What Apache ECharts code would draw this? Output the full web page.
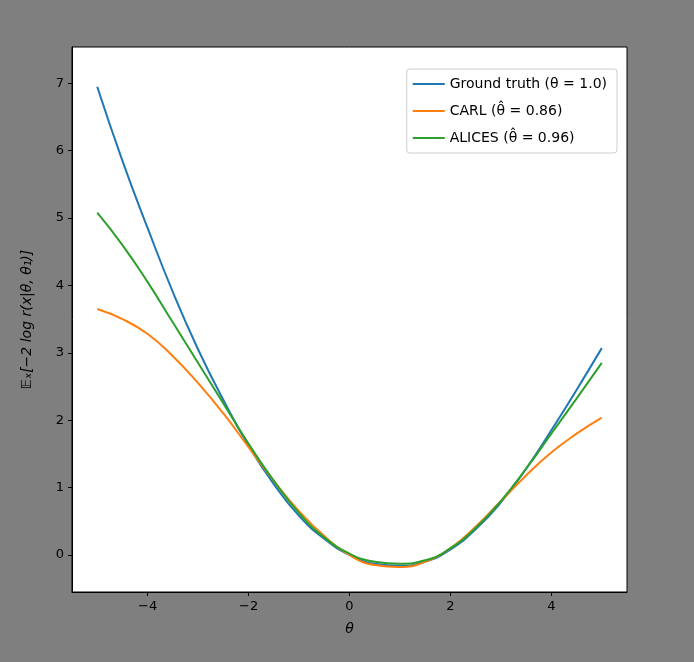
<!DOCTYPE html>
<html><head><meta charset="utf-8">
<script src="https://cdn.jsdelivr.net/npm/echarts@6/dist/echarts.min.js"></script>
<style>html,body{margin:0;padding:0;background:#7f7f7f;}#echart{width:694px;height:662px;}</style>
</head><body><div id="echart"></div>
<script>
var thetas = [-5,-4.5,-4,-3.5,-3,-2.5,-2,-1.5,-1,-0.5,0,0.5,1,1.5,2,2.5,3,3.5,4,4.5,5];
var truth  = [6.95,5.85,4.85,3.9,3.05,2.3,1.62,1.05,0.58,0.24,0.0,-0.13,-0.16,-0.1,0.08,0.38,0.78,1.28,1.85,2.45,3.07];
var carl   = [3.65,3.5,3.28,2.95,2.55,2.1,1.6,1.1,0.65,0.28,0.0,-0.15,-0.18,-0.1,0.1,0.42,0.8,1.18,1.52,1.8,2.04];
var alices = [5.08,4.6,4.05,3.45,2.85,2.25,1.65,1.1,0.62,0.26,0.02,-0.1,-0.13,-0.08,0.1,0.4,0.8,1.28,1.8,2.32,2.85];
var xTicks = [-4,-2,0,2,4];
var yTicks = [0,1,2,3,4,5,6,7];
var names = ['Ground truth (\u03b8 = 1.0)', 'CARL (\u03b8\u0302 = 0.86)', 'ALICES (\u03b8\u0302 = 0.96)'];
var colors = ['#1f77b4','#ff7f0e','#2ca02c'];

function pairs(ys){ return thetas.map(function(t,i){ return [t, ys[i]]; }); }

var myChart = echarts.init(document.getElementById("echart"));
var axisCommon = {
  axisLine: {onZero: false, lineStyle: {color: '#000'}},
  axisTick: {show: true, length: 4, lineStyle: {color: '#000'}},
  splitLine: {show: false},
  axisLabel: {color: '#000', fontSize: 13, fontFamily: 'DejaVu Sans'}
};
var option = {
  backgroundColor: '#7f7f7f',
  color: colors,
  grid: {left: 72, right: 67, top: 47, bottom: 70, show: true, backgroundColor: '#fff', borderColor: '#000', borderWidth: 1},
  legend: {
    orient: 'vertical', right: 77, top: 69, data: names,
    backgroundColor: '#fff', borderColor: '#ccc', borderWidth: 1, borderRadius: 3,
    padding: [8, 10, 8, 6], itemGap: 13, itemWidth: 32, itemHeight: 2,
    icon: 'rect',
    textStyle: {fontSize: 14, fontFamily: 'DejaVu Sans', color: '#000'}
  },
  xAxis: Object.assign({}, axisCommon, {
    type: 'value', min: -5.5, max: 5.5,
    name: '\u03b8', nameLocation: 'middle', nameGap: 30,
    nameTextStyle: {fontSize: 14, fontStyle: 'italic', color: '#000', fontFamily: 'DejaVu Sans'},
    axisTick: {show: true, length: 4, lineStyle: {color: '#000'}, customValues: xTicks},
    axisLabel: {color: '#000', fontSize: 13, fontFamily: 'DejaVu Sans', customValues: xTicks,
      formatter: function(v){ return v < 0 ? '\u2212' + (-v) : String(v); }}
  }),
  yAxis: Object.assign({}, axisCommon, {
    type: 'value', min: -0.55, max: 7.54,
    name: '\ud835\udd3c\u2093[\u22122 log r(x|\u03b8, \u03b8\u2081)]', nameLocation: 'middle', nameGap: 38,
    nameTextStyle: {fontSize: 14, fontStyle: 'italic', color: '#000', fontFamily: 'DejaVu Sans'},
    axisTick: {show: true, length: 4, lineStyle: {color: '#000'}, customValues: yTicks},
    axisLabel: {color: '#000', fontSize: 13, fontFamily: 'DejaVu Sans', customValues: yTicks}
  }),
  series: [truth, carl, alices].map(function(d, i){
    return {name: names[i], type: 'line', data: pairs(d), smooth: true, showSymbol: false,
      lineStyle: {width: 2}};
  })
};
myChart.setOption(option);
</script></body></html>
